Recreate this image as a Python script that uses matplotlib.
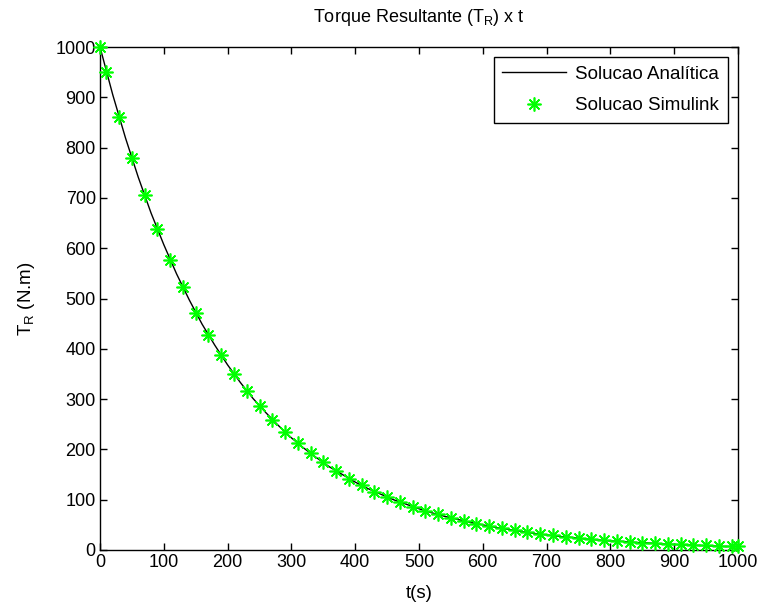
import matplotlib
matplotlib.use("Agg")
import matplotlib.pyplot as plt

plt.rcParams['font.family'] = ['Liberation Sans', 'DejaVu Sans']

# Analytic solution sampled every 20 s
t_analytic = list(range(0, 1001, 20))
torque_analytic = [1000, 905, 819, 741, 670, 607, 549, 497, 449, 407,
                   368, 333, 301, 273, 247, 223, 202, 183, 165, 150,
                   135, 122, 111, 100, 91, 82, 74, 67, 61, 55,
                   50, 45, 41, 37, 33, 30, 27, 25, 22, 20,
                   18, 17, 15, 14, 12, 11, 10, 9, 8, 7, 7]

# Simulink output samples
t_sim = [0, 10] + list(range(30, 1000, 20)) + [1000]
torque_sim = [1000, 951, 861, 779, 705, 638, 577, 522, 472, 427, 387,
              350, 317, 287, 259, 235, 212, 192, 174, 157, 142,
              129, 116, 105, 95, 86, 78, 71, 64, 58, 52,
              47, 43, 39, 35, 32, 29, 26, 24, 21, 19,
              17, 16, 14, 13, 12, 11, 10, 9, 8, 7, 7]

x_ticks = list(range(0, 1001, 100))
y_ticks = list(range(0, 1001, 100))

fig = plt.figure(figsize=(7.58, 6.05), dpi=100)
ax = fig.add_axes([100/758, 1 - 550/605, 638/758, 503/605])

ax.plot(t_analytic, torque_analytic, color='black', lw=1.0,
        label='Solucao Analítica', zorder=2)
ax.plot(t_sim, torque_sim, linestyle='none', marker=(8, 2, 0),
        markersize=10, markeredgewidth=1.2, color=(0, 1, 0),
        markeredgecolor=(0, 1, 0), label='Solucao Simulink', zorder=3,
        clip_on=False)

ax.set_xlim(0, 1000)
ax.set_ylim(0, 1000)
ax.set_xticks(x_ticks)
ax.set_yticks(y_ticks)
ax.tick_params(direction='in', top=True, right=True, length=5, width=1,
               labelsize=13, pad=3)
for s in ax.spines.values():
    s.set_linewidth(1.0)

ax.set_title(r'Torque Resultante (T$_\mathregular{R}$) x t', fontsize=13, pad=18)
ax.set_xlabel('t(s)', fontsize=13.5, labelpad=10)
ax.set_ylabel(r'T$_\mathregular{R}$ (N.m)', fontsize=13.5, labelpad=13)

leg = ax.legend(loc='upper right', fontsize=13.5, frameon=True, fancybox=False,
                edgecolor='black', framealpha=1, borderaxespad=0.55,
                handlelength=3.4, handletextpad=0.5, borderpad=0.45,
                labelspacing=0.75)
leg.get_frame().set_linewidth(1.0)

fig.savefig('out.png', dpi=100)
